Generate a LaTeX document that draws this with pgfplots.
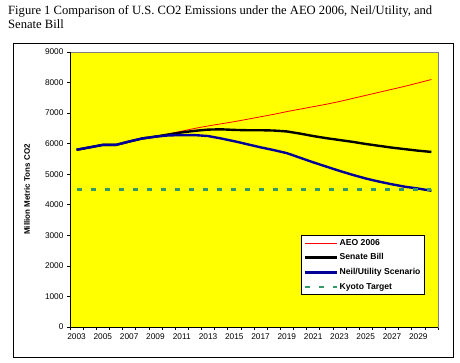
\documentclass[border=0pt]{standalone}
\usepackage{pgfplots}
\pgfplotsset{compat=1.18}
\usepackage{fontspec}
\setmainfont{Liberation Serif}
\newfontfamily\arial{Liberation Sans}
\definecolor{navyb}{RGB}{0,0,153}
\definecolor{kyoto}{RGB}{51,153,102}
\definecolor{plotyellow}{RGB}{255,255,0}
\begin{document}
\begin{tikzpicture}
\path (0pt,0pt) rectangle (460pt,363pt);
\draw[black, line width=0.8pt] (13pt,6pt) rectangle (453pt,320pt);
\node[anchor=north west, align=left, inner sep=0pt, font=\fontsize{12.6}{14.5}\selectfont] at (8pt,358pt)
  {Figure 1 Comparison of U.S. CO2 Emissions under the AEO 2006, Neil/Utility, and\\Senate Bill};
\begin{axis}[
  at={(70pt,36pt)}, anchor=south west,
  width=368pt, height=275pt, scale only axis,
  xmin=2002.5, xmax=2030.5, ymin=0, ymax=9000,
  axis background/.style={fill=plotyellow},
  axis line style={draw=gray, line width=0.6pt},
  xtick={2003,2005,...,2029},
  major x tick style={draw=none},
  minor xtick={2002.5,2003.5,...,2030.5},
  ytick={0,1000,...,9000},
  tick align=outside,
  xtick pos=bottom, ytick pos=left,
  major tick length=3pt, minor tick length=3pt,
  tick style={black, line width=0.6pt},
  /pgf/number format/1000 sep={},
  /pgf/number format/assume math mode=true,
  ticklabel style={font=\arial\fontsize{8.3}{9}\selectfont},
  ylabel={Million Metric Tons CO2},
  ylabel style={font=\arial\bfseries\fontsize{8}{9}\selectfont, at={(axis description cs:-0.117,0.5)}, anchor=center},
  legend style={at={(0.628,0.3345)}, anchor=north west, draw=black, fill=white,
    font=\arial\bfseries\fontsize{8.6}{9.5}\selectfont, row sep=3pt, inner sep=2pt},
  legend cell align=left,
  legend image code/.code={\draw[#1] (0pt,0pt) -- (32pt,0pt);},
  after end axis/.code={\draw[black, line width=0.8pt] (rel axis cs:0,1) -- (rel axis cs:0,0) -- (rel axis cs:1,0);},
]
\addplot[red, line width=0.8pt] table {
x y
2003 5800
2004 5880
2005 5960
2006 5960
2007 6070
2008 6170
2009 6240
2010 6320
2011 6410
2012 6500
2013 6580
2014 6650
2015 6720
2016 6800
2017 6880
2018 6960
2019 7050
2020 7130
2021 7210
2022 7290
2023 7380
2024 7480
2025 7580
2026 7680
2027 7780
2028 7880
2029 7990
2030 8100
};
\addlegendentry{AEO 2006}
\addplot[black, line width=2.4pt] table {
x y
2003 5800
2004 5880
2005 5960
2006 5960
2007 6070
2008 6170
2009 6230
2010 6300
2011 6370
2012 6420
2013 6460
2014 6470
2015 6450
2016 6440
2017 6440
2018 6430
2019 6400
2020 6330
2021 6250
2022 6180
2023 6120
2024 6060
2025 5990
2026 5930
2027 5870
2028 5820
2029 5770
2030 5730
};
\addlegendentry{Senate Bill}
\addplot[navyb, line width=2.4pt] table {
x y
2003 5800
2004 5880
2005 5960
2006 5960
2007 6070
2008 6170
2009 6230
2010 6270
2011 6280
2012 6280
2013 6250
2014 6170
2015 6080
2016 5980
2017 5880
2018 5790
2019 5690
2020 5540
2021 5390
2022 5250
2023 5110
2024 4980
2025 4860
2026 4760
2027 4670
2028 4590
2029 4530
2030 4460
};
\addlegendentry{Neil/Utility Scenario}
\addplot[kyoto, line width=2.4pt, dash pattern=on 5pt off 9pt] table {
x y
2003 4500
2004 4500
2005 4500
2006 4500
2007 4500
2008 4500
2009 4500
2010 4500
2011 4500
2012 4500
2013 4500
2014 4500
2015 4500
2016 4500
2017 4500
2018 4500
2019 4500
2020 4500
2021 4500
2022 4500
2023 4500
2024 4500
2025 4500
2026 4500
2027 4500
2028 4500
2029 4500
2030 4500
};
\addlegendentry{Kyoto Target}
\end{axis}
\end{tikzpicture}
\end{document}
